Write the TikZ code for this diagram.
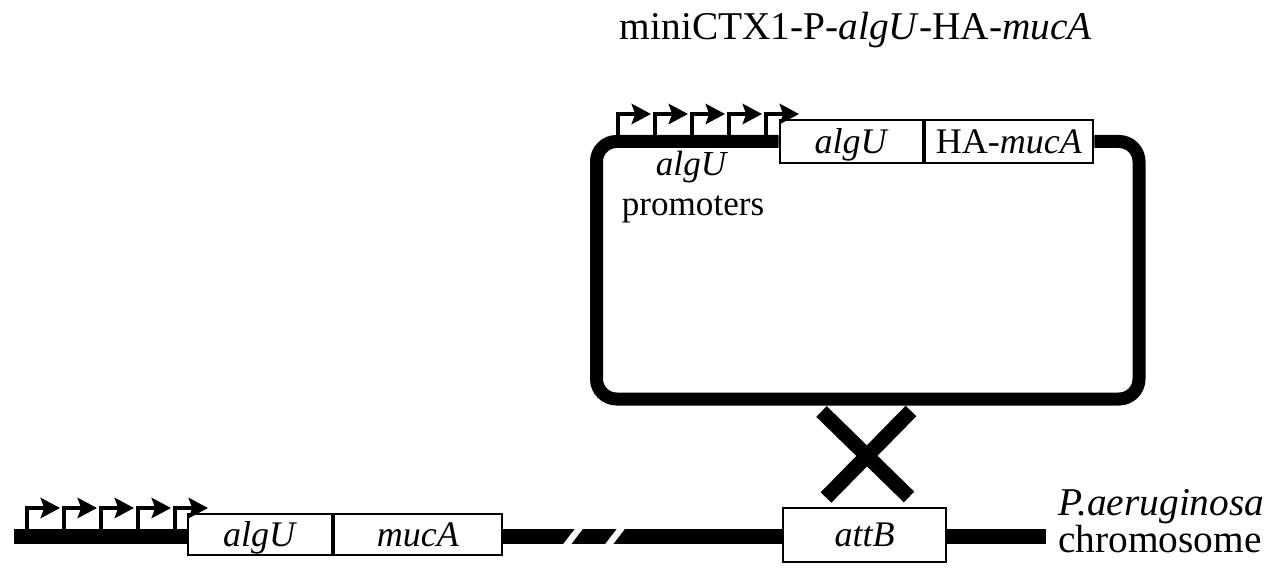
\documentclass[tikz,border=0pt]{standalone}
\usepackage{fontspec}
\setmainfont{Liberation Serif}
\usetikzlibrary{arrows.meta}
\newcommand{\gn}[1]{\textit{#1}}

\begin{document}
\begin{tikzpicture}[x=0.02cm, y=-0.02cm,
    dna/.style={line width=7.4pt},
    gbox/.style={draw, fill=white, line width=1.6pt, minimum height=0.86cm, inner sep=0pt, text height=13.4pt, text depth=0pt, font=\fontsize{20.5}{24}\selectfont},
    prom/.style={line width=2.4pt, -{Stealth[length=11pt,width=11.5pt,inset=2pt]}},
    lbl/.style={inner sep=0pt, font=\fontsize{20}{24}\selectfont},
    big/.style={inner sep=0pt, font=\fontsize{22.4}{27}\selectfont}]
    \useasboundingbox (0,0) rectangle (1270,574);

    \node[big, anchor=base] (title) at (856,40) {miniCTX1-P-\gn{algU}-HA-\gn{mucA}};

    \node[gbox, minimum width=2.86cm] (palgU) at (851.5,141.5) {\gn{algU}};
    \node[gbox, minimum width=3.36cm] (pmucA) at (1009,141.5) {HA-\gn{mucA}};
    \draw[dna, rounded corners=0.4cm] (palgU.west) -- (596.5,141.5) -- (596.5,399) -- (1139,399) -- (1139,141.5) -- (pmucA.east);
    \foreach \x in {618,655,692,729,766}
        \draw[prom] (\x,137) |- ({\x+33},114);

    \node[lbl, anchor=base] (promA) at (692,175) {\gn{algU}};
    \node[lbl, anchor=base] (promB) at (693,215) {promoters};

    \coordinate (x1) at (821.5,411.5);
    \coordinate (x2) at (909,497);
    \coordinate (x3) at (911,411);
    \coordinate (x4) at (826,497.5);
    \draw[line width=8.5pt] (x1) -- (x2) (x3) -- (x4);

    \coordinate (chrL) at (14,536.5);
    \coordinate (chrR) at (1046,536.5);
    \node[gbox, minimum width=2.88cm, minimum height=0.82cm] (calgU) at (260,534.5) {\gn{algU}};
    \node[gbox, minimum width=3.36cm, minimum height=0.82cm] (cmucA) at (418,534.5) {\gn{mucA}};
    \node[gbox, minimum width=3.26cm, minimum height=1.08cm] (attB) at (864.5,535) {\gn{attB}};
    \draw[line width=8.5pt] (chrL) -- (calgU.west |- chrL);
    \draw[line width=8.5pt] (cmucA.east |- chrL) -- (attB.west |- chrL);
    \draw[line width=8.5pt] (attB.east |- chrL) -- (chrR);
    \fill[white] (561,547) -- (569,547) -- (585,526) -- (577,526) -- cycle;
    \fill[white] (603,547) -- (611,547) -- (627,526) -- (619,526) -- cycle;
    \foreach \x in {27,64,101,138,175}
        \draw[prom] (\x,531) |- ({\x+33},508);

    \node[big, anchor=base west] (pa) at (1058,515) {\gn{P.aeruginosa}};
    \node[big, anchor=base west] (chr) at (1058,552) {chromosome};
\end{tikzpicture}
\end{document}
